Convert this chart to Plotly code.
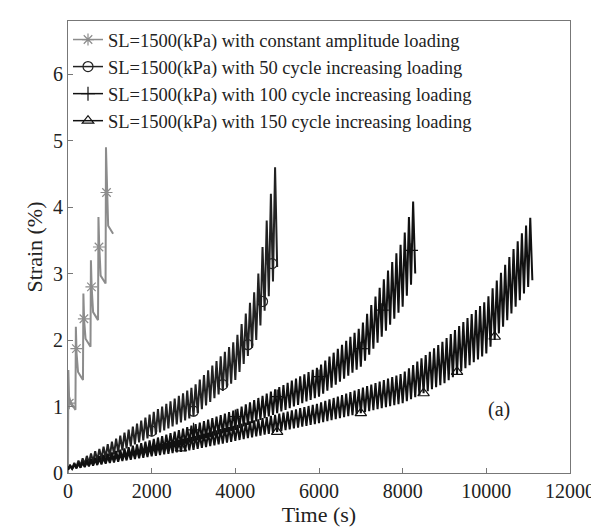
import numpy as np
import plotly.graph_objects as go

# constant amplitude loading: cycle start times, peaks, troughs
ca_t = [0, 180, 360, 540, 720, 900]
ca_peak = [1.55, 2.2, 2.7, 3.2, 3.85, 4.9]
ca_trough = [0.95, 1.4, 1.9, 2.3, 2.85, 3.6]
ca_mk_t = [30, 200, 380, 560, 740, 920]
ca_mk_y = [1.05, 1.87, 2.32, 2.8, 3.4, 4.22]

# increasing loading curves: envelope anchors (time, lower, upper)
c50_t = [0, 1000, 2000, 3000, 4000, 4500, 5000]
c50_lo = [0.05, 0.25, 0.55, 0.85, 1.4, 2.0, 3.1]
c50_hi = [0.1, 0.45, 0.9, 1.3, 2.0, 2.8, 4.8]
c50_mk_t = [2000, 3000, 3700, 4300, 4650, 4880]
c50_mk_y = [0.63, 0.93, 1.33, 1.93, 2.58, 3.15]

c100_t = [0, 2000, 4000, 6000, 7000, 8000, 8300]
c100_lo = [0.05, 0.3, 0.65, 1.15, 1.6, 2.5, 3.0]
c100_hi = [0.1, 0.5, 0.95, 1.6, 2.2, 3.5, 4.2]
c100_mk_t = [3000, 4000, 5000, 6000, 7000, 7500, 8200]
c100_mk_y = [0.65, 0.85, 1.15, 1.45, 1.87, 2.45, 3.35]

c150_t = [0, 3000, 6000, 8000, 9000, 10000, 11100]
c150_lo = [0.05, 0.35, 0.75, 1.05, 1.35, 1.8, 2.9]
c150_hi = [0.1, 0.55, 1.05, 1.5, 2.0, 2.6, 3.9]
c150_mk_t = [2700, 5000, 7000, 8500, 9300, 10200]
c150_mk_y = [0.37, 0.62, 0.9, 1.2, 1.52, 2.05]

PERIOD = 100
FONT = "Liberation Serif, DejaVu Serif, serif"


def zigzag(t, lo, hi):
    tt = np.arange(0, t[-1] + 1, PERIOD / 2)
    low = np.interp(tt, t, lo)
    high = np.interp(tt, t, hi)
    yy = np.where(np.arange(len(tt)) % 2 == 0, low, high)
    return tt, yy


def spikes():
    xs, ys = [0], [0]
    for i, t0 in enumerate(ca_t):
        xs += [t0 + 8, t0 + 25, t0 + 60, t0 + 178]
        ys += [ca_peak[i], ca_peak[i] - 0.4, ca_trough[i] + 0.12, ca_trough[i]]
    return xs, ys


fig = go.Figure()
names = [
    "SL=1500(kPa) with constant amplitude loading",
    "SL=1500(kPa) with 50 cycle increasing loading",
    "SL=1500(kPa) with 100 cycle increasing loading",
    "SL=1500(kPa) with 150 cycle increasing loading",
]
sx, sy = spikes()
curves = [
    (sx, sy, ca_mk_t, ca_mk_y, "#8c8c8c", "asterisk-open"),
    (*zigzag(c50_t, c50_lo, c50_hi), c50_mk_t, c50_mk_y, "#222222", "circle-open"),
    (*zigzag(c100_t, c100_lo, c100_hi), c100_mk_t, c100_mk_y, "#111111", "cross-thin-open"),
    (*zigzag(c150_t, c150_lo, c150_hi), c150_mk_t, c150_mk_y, "#111111", "triangle-up-open"),
]
for name, (x, y, mx, my, col, sym) in zip(names, curves):
    fig.add_trace(go.Scatter(x=x, y=y, mode="lines", line=dict(color=col, width=2),
                             showlegend=False, hoverinfo="skip"))
    fig.add_trace(go.Scatter(x=[None], y=[None], mode="lines+markers", name=name,
                             line=dict(color=col, width=1.5),
                             marker=dict(symbol=sym, size=10, color=col, line=dict(width=1.2, color=col))))
    fig.add_trace(go.Scatter(x=mx, y=my, mode="markers", showlegend=False,
                             marker=dict(symbol=sym, size=10, color=col, line=dict(width=1.2, color=col))))

fig.add_annotation(x=10300, y=0.95, text="(a)", showarrow=False,
                   font=dict(size=20, color="#222", family=FONT))

axis = dict(showline=True, linecolor="#777", mirror=True, ticks="inside", ticklen=5,
            tickcolor="#777", showgrid=False, zeroline=False, tickformat="d",
            tickfont=dict(size=20, color="#222", family=FONT))
fig.update_layout(
    width=599, height=529, plot_bgcolor="white", paper_bgcolor="white",
    font=dict(family=FONT, color="#222"),
    margin=dict(l=60, r=32, t=13, b=64),
    xaxis=dict(range=[0, 12000], dtick=2000,
               title=dict(text="Time (s)", font=dict(size=22, family=FONT), standoff=0), **axis),
    yaxis=dict(range=[0, 6.8], dtick=1,
               title=dict(text="Strain (%)", font=dict(size=22, family=FONT), standoff=4), **axis),
    legend=dict(x=0.0, y=1.0, xanchor="left", yanchor="top", bgcolor="rgba(255,255,255,0)",
                font=dict(size=18.5, family=FONT), tracegroupgap=0, itemwidth=30),
)
fig.write_html("out.html")
